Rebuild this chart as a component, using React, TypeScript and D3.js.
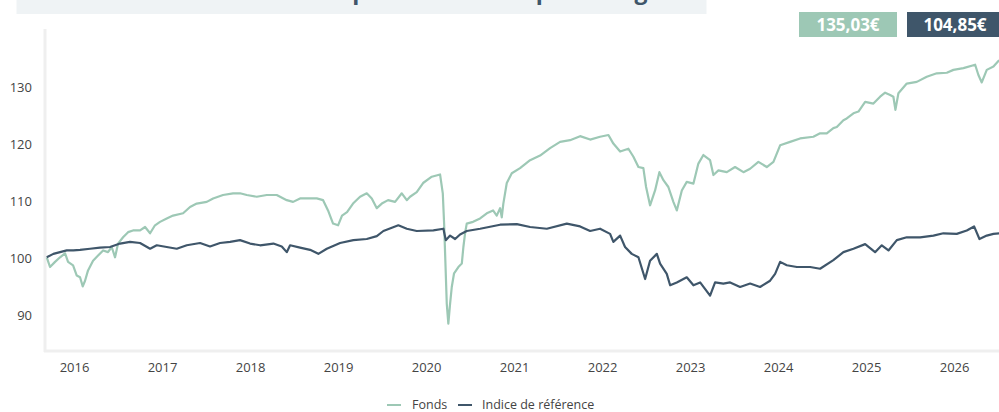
import * as d3 from "d3";
import {useRef, useEffect} from "react";

const title = "Évolution de la performance depuis l'origine";
const seriesNames = ["Fonds", "Indice de référence"];
const lastValues = ["135,03€", "104,85€"];
const yTicks = [90, 100, 110, 120, 130];
const xTicks = [2016, 2017, 2018, 2019, 2020, 2021, 2022, 2023, 2024, 2025, 2026];

// dates as decimal years
const fondsDates = [
  2015.69, 2015.727, 2015.784, 2015.841, 2015.898, 2015.932, 2015.989, 2016.031, 2016.068, 2016.099,
  2016.125, 2016.159, 2016.216, 2016.273, 2016.33, 2016.386, 2016.428, 2016.466, 2016.5, 2016.557,
  2016.614, 2016.67, 2016.75, 2016.807, 2016.864, 2016.92, 2016.977, 2017.053, 2017.125, 2017.239,
  2017.318, 2017.394, 2017.508, 2017.58, 2017.693, 2017.807, 2017.886, 2017.963, 2018.076, 2018.19,
  2018.303, 2018.417, 2018.489, 2018.568, 2018.644, 2018.758, 2018.83, 2018.886, 2018.943, 2019.0,
  2019.045, 2019.102, 2019.17, 2019.25, 2019.326, 2019.383, 2019.44, 2019.497, 2019.568, 2019.648,
  2019.724, 2019.781, 2019.818, 2019.894, 2019.966, 2020.065, 2020.159, 2020.19, 2020.205, 2020.219,
  2020.235, 2020.253, 2020.273, 2020.292, 2020.318, 2020.367, 2020.406, 2020.424, 2020.443, 2020.462,
  2020.534, 2020.614, 2020.69, 2020.761, 2020.803, 2020.841, 2020.86, 2020.878, 2020.917, 2020.974,
  2021.068, 2021.182, 2021.295, 2021.409, 2021.523, 2021.636, 2021.75, 2021.864, 2021.977, 2022.072,
  2022.128, 2022.205, 2022.299, 2022.356, 2022.413, 2022.469, 2022.5, 2022.545, 2022.602, 2022.651,
  2022.697, 2022.753, 2022.81, 2022.849, 2022.906, 2022.962, 2023.038, 2023.094, 2023.151, 2023.227,
  2023.265, 2023.322, 2023.417, 2023.511, 2023.606, 2023.682, 2023.776, 2023.871, 2023.947, 2024.023,
  2024.136, 2024.25, 2024.401, 2024.477, 2024.553, 2024.628, 2024.667, 2024.742, 2024.78, 2024.856,
  2024.913, 2024.989, 2025.083, 2025.159, 2025.216, 2025.273, 2025.31, 2025.333, 2025.367, 2025.462,
  2025.576, 2025.689, 2025.803, 2025.917, 2025.992, 2026.106, 2026.239, 2026.276, 2026.314, 2026.371,
  2026.447, 2026.511,
];
const fondsValues = [
  100.2, 98.5, 99.4, 100.2, 100.9, 99.4, 98.8, 97.0, 96.7, 95.1,
  96.1, 97.9, 99.6, 100.5, 101.4, 101.1, 102.0, 100.2, 102.6, 103.7,
  104.6, 104.9, 104.9, 105.5, 104.4, 105.8, 106.4, 107.0, 107.5, 107.9,
  109.0, 109.6, 109.9, 110.5, 111.1, 111.4, 111.4, 111.1, 110.8, 111.1,
  111.1, 110.2, 109.9, 110.5, 110.5, 110.5, 110.2, 108.4, 106.1, 105.8,
  107.5, 108.1, 109.6, 110.8, 111.4, 110.5, 108.8, 109.6, 110.2, 109.9,
  111.4, 110.2, 110.8, 111.6, 113.2, 114.3, 114.7, 111.4, 106.1, 99.6,
  92.1, 88.6, 92.1, 95.0, 97.4, 98.5, 99.1, 102.0, 104.4, 106.1,
  106.4, 107.0, 107.9, 108.4, 107.5, 108.8, 107.2, 109.6, 113.2, 114.9,
  115.8, 117.2, 118.0, 119.3, 120.4, 120.7, 121.4, 120.8, 121.3, 121.6,
  120.1, 118.7, 119.2, 117.8, 116.0, 115.8, 112.5, 109.3, 111.9, 115.1,
  113.7, 112.5, 109.9, 108.4, 111.9, 113.4, 113.1, 116.6, 118.1, 117.2,
  114.6, 115.4, 115.1, 116.0, 115.1, 115.7, 116.9, 116.0, 116.9, 119.8,
  120.4, 121.0, 121.3, 121.9, 121.9, 122.8, 123.0, 124.2, 124.5, 125.4,
  125.7, 127.4, 127.1, 128.3, 129.0, 128.6, 128.3, 126.0, 128.9, 130.6,
  130.9, 131.8, 132.4, 132.5, 133.0, 133.3, 133.9, 132.1, 130.8, 133.0,
  133.6, 134.7,
];

const indiceDates = [
  2015.69, 2015.765, 2015.841, 2015.917, 2015.992, 2016.068, 2016.182, 2016.295, 2016.409, 2016.523,
  2016.636, 2016.75, 2016.864, 2016.94, 2017.053, 2017.167, 2017.281, 2017.432, 2017.545, 2017.659,
  2017.773, 2017.886, 2018.0, 2018.114, 2018.265, 2018.36, 2018.417, 2018.455, 2018.568, 2018.682,
  2018.776, 2018.872, 2019.023, 2019.174, 2019.326, 2019.44, 2019.515, 2019.685, 2019.781, 2019.894,
  2020.083, 2020.197, 2020.224, 2020.273, 2020.33, 2020.386, 2020.462, 2020.614, 2020.841, 2021.031,
  2021.182, 2021.372, 2021.599, 2021.75, 2021.864, 2021.977, 2022.091, 2022.128, 2022.205, 2022.261,
  2022.337, 2022.413, 2022.489, 2022.545, 2022.622, 2022.659, 2022.735, 2022.773, 2022.849, 2022.962,
  2023.038, 2023.114, 2023.227, 2023.284, 2023.378, 2023.455, 2023.568, 2023.682, 2023.795, 2023.909,
  2023.966, 2024.023, 2024.099, 2024.213, 2024.364, 2024.477, 2024.628, 2024.742, 2024.856, 2024.989,
  2025.102, 2025.178, 2025.254, 2025.349, 2025.462, 2025.614, 2025.765, 2025.878, 2026.03, 2026.144,
  2026.227, 2026.288, 2026.371, 2026.447, 2026.511,
];
const indiceValues = [
  100.2, 100.8, 101.1, 101.4, 101.4, 101.5, 101.7, 101.9, 102.0, 102.6,
  102.9, 102.7, 101.7, 102.3, 102.0, 101.7, 102.3, 102.7, 102.1, 102.7,
  102.9, 103.2, 102.6, 102.3, 102.6, 102.1, 101.1, 102.3, 101.9, 101.5,
  100.8, 101.7, 102.7, 103.2, 103.4, 103.9, 104.8, 105.8, 105.2, 104.8,
  104.9, 105.2, 103.2, 104.0, 103.4, 104.2, 104.8, 105.2, 105.9, 106.0,
  105.5, 105.2, 106.1, 105.6, 104.8, 105.2, 104.3, 102.9, 104.0, 102.0,
  100.8, 100.2, 96.4, 99.6, 100.8, 99.1, 97.3, 95.3, 95.8, 96.7,
  95.3, 95.8, 93.5, 95.8, 95.6, 95.8, 95.0, 95.6, 95.0, 96.1,
  97.3, 99.4, 98.8, 98.5, 98.5, 98.2, 99.7, 101.1, 101.7, 102.5,
  101.1, 102.3, 101.4, 103.2, 103.7, 103.7, 104.0, 104.4, 104.3, 104.9,
  105.6, 103.4, 104.0, 104.3, 104.4,
];

const colors = ["#9dc8b5", "#3f566a"];
const font = "'Open Sans', sans-serif";

export default function App() {
  const width = 999;
  const height = 412;
  const gx = useRef<SVGGElement | null>(null);
  const gy = useRef<SVGGElement | null>(null);

  const x = d3.scaleLinear().domain([2015.67, 2026.51]).range([45, 999]);
  const y = d3.scaleLinear().domain([83.8, 140.1]).range([351, 29.3]);

  const line = d3
    .line<[number, number]>()
    .x((d) => x(d[0]))
    .y((d) => y(d[1]));

  const fonds = fondsDates.map((d, i) => [d, fondsValues[i]] as [number, number]);
  const indice = indiceDates.map((d, i) => [d, indiceValues[i]] as [number, number]);

  useEffect(() => {
    if (gx.current) {
      const g = d3.select(gx.current);
      g.call(d3.axisBottom(x).tickValues(xTicks).tickFormat(d3.format("d")).tickSize(0).tickPadding(12));
      g.select(".domain").remove();
      g.selectAll("text").attr("fill", "#444").attr("font-size", 13).attr("font-family", font);
    }
    if (gy.current) {
      const g = d3.select(gy.current);
      g.call(d3.axisLeft(y).tickValues(yTicks).tickSize(0).tickPadding(13));
      g.select(".domain").remove();
      g.selectAll("text").attr("fill", "#444").attr("font-size", 13).attr("font-family", font);
    }
  }, [x, y]);

  return (
    <div style={{position: "absolute", left: 0, top: 0}}>
      <svg width={width} height={height} style={{display: "block"}}>
        <rect x={16.5} y={0} width={690} height={14} fill="#eff3f5" />
        {/* title sits mostly above the frame, only its descenders show */}
        <text x={430} y={-1.5} textAnchor="middle" fontFamily={font} fontWeight={700} fontSize={23} fill="#3f566a">
          {title}
        </text>

        <rect x={799} y={12} width={98} height={25} fill={colors[0]} />
        <text x={848} y={30.5} textAnchor="middle" fontFamily={font} fontWeight={700} fontSize={17} fill="#fff">
          {lastValues[0]}
        </text>
        <rect x={907} y={12} width={96} height={25} fill={colors[1]} />
        <text x={955} y={30.5} textAnchor="middle" fontFamily={font} fontWeight={700} fontSize={17} fill="#fff">
          {lastValues[1]}
        </text>

        <line x1={45} x2={45} y1={29} y2={352} stroke="#efefef" strokeWidth={3} />
        <line x1={44} x2={999} y1={351} y2={351} stroke="#efefef" strokeWidth={3} />

        <g ref={gx} transform={`translate(0,${351})`} />
        <g ref={gy} transform={`translate(${45},0)`} />

        <path d={line(fonds) ?? ""} fill="none" stroke={colors[0]} strokeWidth={2.2} strokeLinejoin="round" />
        <path d={line(indice) ?? ""} fill="none" stroke={colors[1]} strokeWidth={2.2} strokeLinejoin="round" />

        <g fontFamily={font} fontSize={12.5} fill="#444">
          <line x1={387} x2={401} y1={405} y2={405} stroke={colors[0]} strokeWidth={2} />
          <text x={412} y={409}>{seriesNames[0]}</text>
          <line x1={458} x2={472} y1={405} y2={405} stroke={colors[1]} strokeWidth={2} />
          <text x={482} y={409}>{seriesNames[1]}</text>
        </g>
      </svg>
    </div>
  );
}
